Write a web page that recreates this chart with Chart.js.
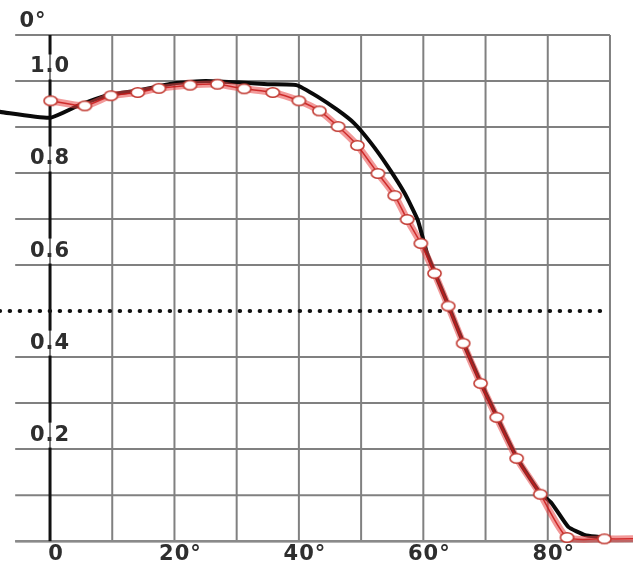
<!DOCTYPE html>
<html>
<head>
<meta charset="utf-8">
<script src="https://cdn.jsdelivr.net/npm/chart.js@4"></script>
<style>
  html, body { margin: 0; padding: 0; background: #fff; }
</style>
</head>
<body>
<canvas id="chart" width="633" height="566"></canvas>
<script>
// measured curve (red, with markers) and reference curve (black)
const redDeg = [0.1, 5.6, 9.8, 14.1, 17.5, 22.5, 26.9, 31.2, 35.8, 40.0, 43.3, 46.3, 49.4, 52.7, 55.4, 57.4,
  59.6, 61.8, 64.0, 66.4, 69.2, 71.8, 75.0, 78.8, 83.1, 89.1, 95];
const redVal = [0.957, 0.946, 0.968, 0.975, 0.984, 0.991, 0.993, 0.983, 0.975, 0.957, 0.935, 0.901, 0.860, 0.799, 0.751, 0.699,
  0.647, 0.582, 0.511, 0.430, 0.343, 0.269, 0.180, 0.102, 0.008, 0.005, 0.005];

const blackDeg = [-8.1, 0, 4.8, 9.6, 14.5, 20, 25, 30, 35, 39.6, 43, 46.2, 48.9, 51.6, 54.3, 57, 59.1, 60.5,
  62, 64, 66.4, 69.2, 71.8, 75, 78.8, 80.6, 83.3, 86, 88.2, 90];
const blackVal = [0.933, 0.920, 0.948, 0.970, 0.980, 0.995, 1.0, 0.997, 0.993, 0.991, 0.966, 0.937, 0.908, 0.865, 0.814, 0.756, 0.698, 0.630,
  0.578, 0.513, 0.432, 0.345, 0.271, 0.182, 0.104, 0.083, 0.031, 0.013, 0.009, 0.005];

const halfLevel = 0.5;
const halfFrom = -8.1;
const halfTo = 89.2;

const xGrid = [0, 10, 20, 30, 40, 50, 60, 70, 80, 90];
const yGrid = [0, 0.1, 0.2, 0.3, 0.4, 0.6, 0.7, 0.8, 0.9, 1.0, 1.1];
const xTicks = [0, 20, 40, 60, 80];
const xTickLabels = ['0', '20°', '40°', '60°', '80°'];
const yTicks = [0.2, 0.4, 0.6, 0.8, 1.0];
const yTickLabels = ['0.2', '0.4', '0.6', '0.8', '1.0'];
const topLabel = '0°';

// little oval marker, white inside
const marker = document.createElement('canvas');
marker.width = 17;
marker.height = 13;
const m = marker.getContext('2d');
m.beginPath();
m.ellipse(8.5, 6.5, 6.6, 4.8, 0, 0, Math.PI * 2);
m.fillStyle = '#fff';
m.fill();
m.lineWidth = 1.6;
m.strokeStyle = '#c23a32';
m.stroke();

const gridPlugin = {
    id: 'gridPlugin',
    beforeDatasetsDraw(chart) {
        const { ctx, scales: { x, y } } = chart;
        ctx.save();

        // grid
        ctx.strokeStyle = '#808080';
        ctx.lineWidth = 2;
        xGrid.forEach(v => {
            const px = x.getPixelForValue(v);
            ctx.beginPath();
            ctx.moveTo(px, y.getPixelForValue(1.1));
            ctx.lineTo(px, y.getPixelForValue(0));
            ctx.stroke();
        });
        yGrid.forEach(v => {
            const py = y.getPixelForValue(v);
            ctx.beginPath();
            ctx.moveTo(x.getPixelForValue(-5.6), py);
            ctx.lineTo(x.getPixelForValue(90), py);
            ctx.stroke();
        });

        // bottom base line
        ctx.strokeStyle = '#8a8a8a';
        ctx.lineWidth = 2.5;
        ctx.beginPath();
        ctx.moveTo(x.getPixelForValue(-5.6), y.getPixelForValue(0));
        ctx.lineTo(chart.width, y.getPixelForValue(0));
        ctx.stroke();

        // vertical axis with gaps for its labels
        const ax = x.getPixelForValue(0);
        const gaps = yTicks.map(v => y.getPixelForValue(v) - 14);
        let start = y.getPixelForValue(1.1);
        ctx.strokeStyle = '#111';
        ctx.lineWidth = 3;
        gaps.slice().sort((a, b) => a - b).forEach(g => {
            ctx.beginPath();
            ctx.moveTo(ax, start);
            ctx.lineTo(ax, g - 12.5);
            ctx.stroke();
            start = g + 12.5;
        });
        ctx.beginPath();
        ctx.moveTo(ax, start);
        ctx.lineTo(ax, y.getPixelForValue(0));
        ctx.stroke();

        // labels
        ctx.fillStyle = '#2e2e2e';
        ctx.font = 'bold 21px "DejaVu Sans"';
        ctx.textAlign = 'center';
        ctx.textBaseline = 'middle';
        ctx.letterSpacing = '1px';
        yTicks.forEach((v, i) => {
            ctx.fillText(yTickLabels[i], ax, y.getPixelForValue(v) - 14);
        });
        xTicks.forEach((v, i) => {
            ctx.fillText(xTickLabels[i], x.getPixelForValue(v) + 6, y.getPixelForValue(0) + 13);
        });
        ctx.fillText(topLabel, 33, 22);
        ctx.restore();
    }
};

const redPoints = redDeg.map((d, i) => ({ x: d, y: redVal[i] }));
const ctx = document.getElementById('chart').getContext('2d');

new Chart(ctx, {
    type: 'line',
    data: {
        datasets: [
            {
                // thin core line with the markers
                data: redPoints,
                borderColor: 'rgba(200, 25, 25, 0.85)',
                borderWidth: 1.5,
                tension: 0.2,
                pointStyle: marker,
                pointRadius: c => (c.dataIndex < redDeg.length - 1 ? 6 : 0),
                order: 0
            },
            {
                // soft wide band under it
                data: redPoints,
                borderColor: 'rgba(232, 70, 70, 0.55)',
                borderWidth: 7,
                tension: 0.2,
                pointRadius: 0,
                order: 1
            },
            {
                data: blackDeg.map((d, i) => ({ x: d, y: blackVal[i] })),
                borderColor: '#0a0a0a',
                borderWidth: 4,
                tension: 0.15,
                pointRadius: 0,
                order: 2
            },
            {
                data: [{ x: halfFrom, y: halfLevel }, { x: halfTo, y: halfLevel }],
                borderColor: '#111',
                borderWidth: 4,
                borderDash: [0.5, 9.5],
                borderCapStyle: 'round',
                pointRadius: 0,
                order: 3
            }
        ]
    },
    options: {
        responsive: false,
        animation: false,
        devicePixelRatio: 1,
        events: [],
        layout: { padding: 0, autoPadding: false },
        plugins: {
            legend: { display: false },
            tooltip: { enabled: false }
        },
        scales: {
            x: { type: 'linear', min: -8.04, max: 93.7, display: false },
            y: { type: 'linear', min: -0.054, max: 1.176, display: false }
        }
    },
    plugins: [gridPlugin]
});
</script>
</body>
</html>
